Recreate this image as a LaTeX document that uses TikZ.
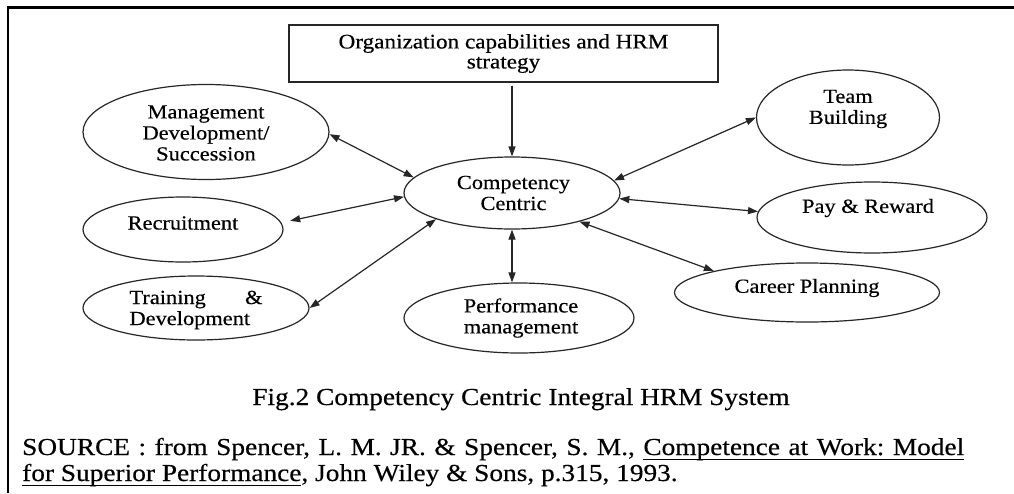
\documentclass[tikz,border=0pt]{standalone}
\usepackage{fontspec}
\setmainfont{Liberation Serif}[FakeStretch=1.12, FakeBold=0.4]
\usetikzlibrary{shapes.geometric,arrows.meta}

% underline pieces for the citation: a rule 3.5pt--5pt below the baseline
\newcommand\ulgap{\leaders\vrule height -3.5pt depth 5pt\hfill}
\newcommand\srcul[1]{\setbox0\hbox{#1}\rlap{\vrule height -3.5pt depth 5pt width \wd0}\box0}

\tikzset{
  oval/.style={ellipse, draw=black!85, line width=1.2pt, inner sep=0pt},
  lbl/.style={align=center, font=\fontsize{20}{21}\selectfont, inner sep=0pt, text=black},
  link/.style={line width=1.2pt, draw=black!85,
    {Triangle[length=10pt,width=7pt]}-{Triangle[length=10pt,width=7pt]}},
  feed/.style={line width=1.2pt, draw=black!85, -{Triangle[length=10pt,width=7pt]}},
  txt/.style={inner sep=0pt, font=\fontsize{24.4}{27}\selectfont},
}

\begin{document}
\begin{tikzpicture}[x=1pt, y=-1pt]
  \useasboundingbox (0,0) rectangle (1014,493);
  \fill[white] (0,0) rectangle (1014,493);

  % page frame (top and left edges)
  \draw[line width=2.6pt] (8,493) -- (8,7.3) -- (1014,7.3);

  % strategy box
  \node[draw=black!85, line width=1.2pt, minimum width=429pt, minimum height=57pt,
        inner sep=0pt, align=center, font=\fontsize{20.7}{20}\selectfont]
        (org) at (503.5,53.5) {Organization capabilities and HRM\\strategy};

  % central ellipse
  \node[oval, minimum width=216pt, minimum height=72pt,
        label={[lbl, xshift=1.5pt]center:Competency\\Centric}] (cc) at (512,193) {};

  % surrounding HRM functions
  \node[oval, minimum width=246pt, minimum height=95pt,
        label={[lbl, yshift=-1pt]center:Management\\Development/\\Succession}] (mgmt) at (206,132) {};
  \node[oval, minimum width=200pt, minimum height=65pt,
        label={[lbl, yshift=6.5pt]center:Recruitment}] (rec) at (183,229.5) {};
  \node[oval, minimum width=226pt, minimum height=64pt,
        label={[lbl, yshift=-2pt]center:{\parbox{133pt}{Training\hfill\&\\Development}}}] (trn) at (196,308) {};
  \node[oval, minimum width=230pt, minimum height=70pt,
        label={[lbl, xshift=2pt]center:Performance\\management}] (perf) at (519,318) {};
  \node[oval, minimum width=183pt, minimum height=95pt,
        label={[lbl, yshift=8.5pt]center:Team\\Building}] (team) at (848,117.5) {};
  \node[oval, minimum width=230pt, minimum height=71pt,
        label={[lbl, xshift=-4pt, yshift=9.5pt]center:Pay \& Reward}] (pay) at (872,217.5) {};
  \node[oval, minimum width=265pt, minimum height=59pt,
        label={[lbl, yshift=4.5pt]center:Career Planning}] (car) at (807,292.5) {};

  % connectors
  \draw[feed, shorten <=3pt] (org.south -| cc.north) -- (cc.north);
  \draw[link] (mgmt.359) -- (cc.171.6);
  \draw[link, shorten <=9pt] (rec.4) -- (cc.182);
  \draw[link] (trn.0.5) -- (cc.199.4);
  \draw[link] (cc.south) -- (cc.south |- perf.north);
  \draw[link] (cc.337.8) -- (car.167.7);
  \draw[link] (cc.357.3) -- (pay.177.8);
  \draw[link] (cc.7.2) -- (team.180);

  % caption and source
  \node[txt, anchor=base] (cap) at (521,405) {Fig.2 Competency Centric Integral HRM System};
  \node[txt, anchor=base west] (src1) at (22,455)
    {\hbox to 942pt{SOURCE\hfill:\hfill from\hfill Spencer,\hfill L.\hfill M.\hfill JR.\hfill \&\hfill Spencer,\hfill S.\hfill M.,\hfill
     \srcul{Competence}\ulgap\srcul{at}\ulgap\srcul{Work:}\ulgap\srcul{Model}}};
  \node[txt, anchor=base west] (src2) at (22,481)
    {\srcul{for Superior Performance}, John Wiley \& Sons, p.315, 1993.};
\end{tikzpicture}
\end{document}
